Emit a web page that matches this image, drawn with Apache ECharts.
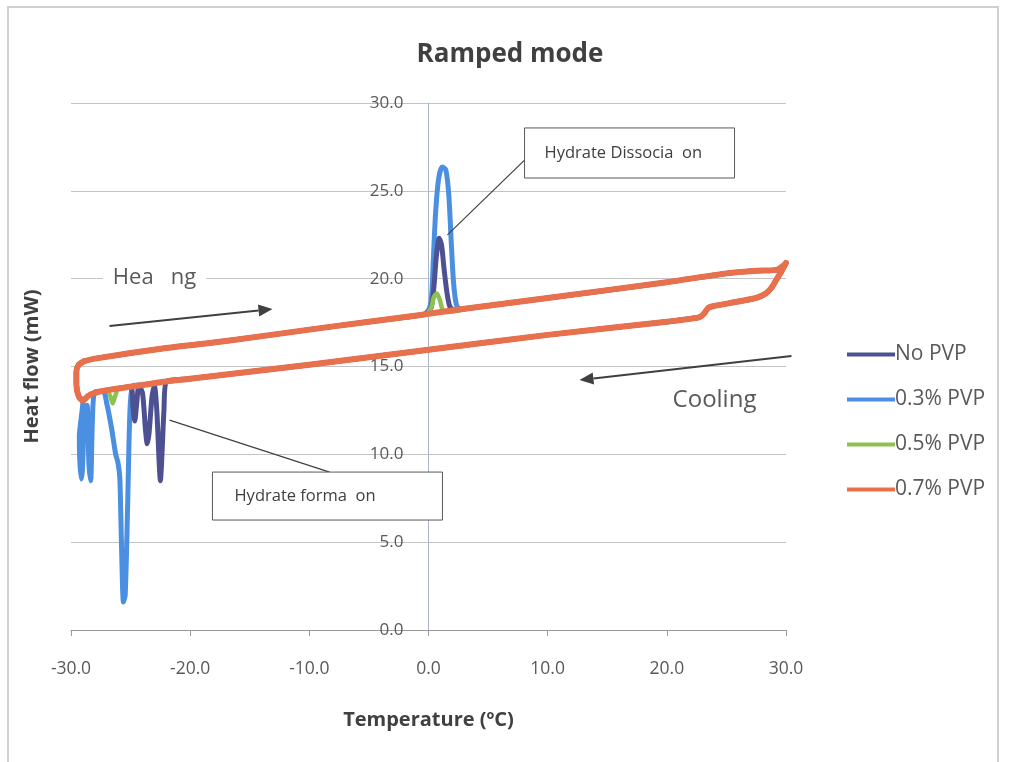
<!DOCTYPE html>
<html><head><meta charset="utf-8">
<script src="https://cdn.jsdelivr.net/npm/echarts@6/dist/echarts.min.js"></script>
<style>html,body{margin:0;padding:0;background:#fff}#c{width:1010px;height:762px}</style>
</head><body><div id="c"></div>
<script>
// ---- data (temperature °C, heat flow mW) ----
const seriesNames = ['No PVP', '0.3% PVP', '0.5% PVP', '0.7% PVP'];
const seriesColors = ['#4d5191', '#4a8fe0', '#8dc151', '#e8704c'];
const xTickValues = [-30, -20, -10, 0, 10, 20, 30];
const yTickValues = [0, 5, 10, 15, 20, 25, 30];

// heating branch, left part (shared)
const heatLeft = [[-28.9,15.3],[-28.0,15.45],[-22.0,16.05],[-17.0,16.45],[-10.0,17.1],[-5.0,17.55],[-0.5,17.95]];
// dissociation peaks
const peakNoPvp = [[-0.3,17.98],[0.2,18.3],[0.45,19.5],[0.65,21.2],[0.9,22.3],[1.1,21.9],[1.3,20.6],[1.55,19.2],[1.8,18.4],[2.2,18.2]];
const peak03 = [[-0.5,17.95],[0.0,18.2],[0.25,18.9],[0.4,21.0],[0.6,23.8],[0.85,25.7],[1.15,26.35],[1.45,26.2],[1.7,24.8],[1.9,22.2],[2.1,19.8],[2.35,18.5],[2.7,18.25]];
const peak05 = [[-0.2,17.98],[0.2,18.3],[0.45,18.95],[0.7,19.15],[0.95,18.8],[1.2,18.2],[1.6,18.1]];
const peak07 = [[0.0,18.0],[1.5,18.15]];
// heating branch, right part (shared)
const heatRight = [[3.2,18.3],[10.0,18.9],[20.0,19.8],[25.0,20.3],[27.5,20.45],[29.2,20.5],[29.8,20.75],[30.0,20.9]];
// cooling branch, right part (shared)
const coolRight = [[29.6,20.4],[29.2,19.95],[28.8,19.5],[28.3,19.15],[27.5,18.9],[26.0,18.7],[24.0,18.45],[23.5,18.35],[23.1,18.0],[22.7,17.8],[20.0,17.55],[10.0,16.8],[0.0,15.95],[-10.0,15.1],[-20.0,14.3]];
// formation dips on cooling
const dipNoPvp = [[-22.0,14.15],[-22.2,12.5],[-22.4,9.5],[-22.5,8.5],[-22.6,9.5],[-22.8,12.5],[-23.0,13.9],[-23.2,13.3],[-23.45,11.2],[-23.6,10.6],[-23.75,11.4],[-24.0,13.5],[-24.3,13.9],[-24.5,12.8],[-24.65,11.9],[-24.8,12.7],[-25.0,13.85],[-27.0,13.65],[-28.0,13.5],[-28.6,13.3]];
const dip03 = [[-22.0,14.15],[-24.0,13.95],[-24.8,13.9],[-25.05,12.5],[-25.25,7.0],[-25.45,2.0],[-25.6,1.6],[-25.75,4.5],[-25.9,8.6],[-26.05,9.5],[-26.25,10.0],[-26.6,11.5],[-27.0,12.9],[-27.3,13.6],[-28.0,13.55],[-28.2,12.0],[-28.35,8.5],[-28.5,9.5],[-28.65,12.8],[-28.85,12.5],[-29.05,9.0],[-29.15,8.6],[-29.3,11.0]];
const dip05 = [[-22.0,14.15],[-25.0,13.85],[-26.0,13.75],[-26.3,13.3],[-26.5,12.9],[-26.7,13.3],[-27.0,13.65],[-28.0,13.5],[-28.6,13.3]];
const dip07 = [[-22.0,14.15],[-25.0,13.85],[-27.0,13.65],[-28.0,13.5],[-28.6,13.3]];
// low-temperature corner joining cooling back to heating (shared)
const corner = [[-29.0,13.05],[-29.35,13.3],[-29.55,14.0],[-29.55,14.7],[-29.35,15.1],[-28.9,15.3]];

const loopNoPvp = [...heatLeft, ...peakNoPvp, ...heatRight, ...coolRight, ...dipNoPvp, ...corner];
const loop03 = [...heatLeft, ...peak03, ...heatRight, ...coolRight, ...dip03, ...corner];
const loop05 = [...heatLeft, ...peak05, ...heatRight, ...coolRight, ...dip05, ...corner];
const loop07 = [...heatLeft, ...peak07, ...heatRight, ...coolRight, ...dip07, ...corner];

const FONT = 'Open Sans';
const chart = echarts.init(document.getElementById('c'), null, {renderer: 'canvas'});

function mk(name, data, color, width, z) {
  return {
    name, type: 'line', data, smooth: 0.25, symbol: 'none', z,
    lineStyle: {color, width, cap: 'round', join: 'round'},
    itemStyle: {color}
  };
}

const GRID = {left: 71, right: 224, top: 103, bottom: 132};
const plotW = 1010 - GRID.left - GRID.right;
const zeroOffset = -plotW * (0 - (-30)) / 60;   // move the y axis to x = 0

chart.setOption({
  animation: false,
  backgroundColor: '#fff',
  title: {
    text: 'Ramped mode', left: 505, top: 37, textAlign: 'center',
    textStyle: {fontFamily: FONT, fontSize: 26, fontWeight: 'bold', color: '#404040'}
  },
  legend: {
    data: seriesNames, orient: 'vertical', left: 842, top: 339,
    icon: 'rect', itemWidth: 48, itemHeight: 4, itemGap: 24,
    textStyle: {fontFamily: FONT, fontSize: 21, color: '#595959', padding: [0,0,0,-5]}
  },
  grid: Object.assign({outerBoundsMode: 'none', containLabel: false}, GRID),
  xAxis: {
    type: 'value', min: -30, max: 30, interval: 10,
    name: 'Temperature (ºC)', nameLocation: 'middle', nameGap: 80,
    nameTextStyle: {fontFamily: FONT, fontSize: 20, fontWeight: 'bold', color: '#404040'},
    axisLine: {onZero: false, lineStyle: {color: '#9a9a9a', width: 1}},
    axisTick: {show: true, length: 6, lineStyle: {color: '#9a9a9a'}},
    axisLabel: {fontFamily: FONT, fontSize: 17.5, color: '#595959', margin: 30,
      formatter: v => xTickValues.includes(v) ? v.toFixed(1) : ''},
    splitLine: {show: false}
  },
  yAxis: {
    type: 'value', min: 0, max: 30, interval: 5, offset: zeroOffset,
    name: 'Heat flow (mW)', nameLocation: 'middle', nameRotate: 90, nameGap: 386,
    nameTextStyle: {fontFamily: FONT, fontSize: 20, fontWeight: 'bold', color: '#404040'},
    axisLine: {show: true, onZero: false, lineStyle: {color: '#aab6cc', width: 1}},
    axisTick: {show: false},
    axisLabel: {fontFamily: FONT, fontSize: 17, color: '#595959', margin: 25,
      formatter: v => yTickValues.includes(v) ? v.toFixed(1) : ''},
    splitLine: {lineStyle: {color: '#c4c4c4', width: 1}}
  },
  series: [
    mk('0.3% PVP', loop03, seriesColors[1], 5, 2),
    mk('No PVP', loopNoPvp, seriesColors[0], 5, 3),
    mk('0.5% PVP', loop05, seriesColors[2], 4.5, 4),
    mk('0.7% PVP', loop07, seriesColors[3], 6, 5)
  ]
});

// ---- annotations anchored in data coordinates ----
function P(x, y) { return chart.convertToPixel({gridIndex: 0}, [x, y]); }
function arrow(a, b, color, w) {
  const p = P(a[0], a[1]), q = P(b[0], b[1]);
  const dx = q[0] - p[0], dy = q[1] - p[1], L = Math.hypot(dx, dy);
  const ux = dx / L, uy = dy / L, hl = 14, hw = 6;
  const bx = q[0] - ux * hl, by = q[1] - uy * hl;
  return [
    {type: 'line', shape: {x1: p[0], y1: p[1], x2: bx, y2: by}, style: {stroke: color, lineWidth: w}, z: 20},
    {type: 'polygon', shape: {points: [[q[0], q[1]], [bx - uy * hw, by + ux * hw], [bx + uy * hw, by - ux * hw]]}, style: {fill: color}, z: 20}
  ];
}
function box(x0, y0, x1, y1, text, pad) {
  const a = P(x0, y0), b = P(x1, y1);
  return [
    {type: 'rect', shape: {x: a[0], y: a[1], width: b[0] - a[0], height: b[1] - a[1]}, style: {fill: '#fff', stroke: '#595959', lineWidth: 1}, z: 20},
    {type: 'text', x: a[0] + pad, y: (a[1] + b[1]) / 2, style: {text, fontFamily: FONT, fontSize: 16.5, fill: '#404040', align: 'left', verticalAlign: 'middle'}, z: 21}
  ];
}
function seg(a, b) {
  const p = P(a[0], a[1]), q = P(b[0], b[1]);
  return {type: 'line', shape: {x1: p[0], y1: p[1], x2: q[0], y2: q[1]}, style: {stroke: '#404040', lineWidth: 1.2}, z: 20};
}
function label(x, y, text, size) {
  const p = P(x, y);
  return {type: 'text', x: p[0], y: p[1], style: {text, fontFamily: FONT, fontSize: size, fill: '#595959', align: 'center', verticalAlign: 'middle', backgroundColor: '#fff', padding: [0, 10]}, z: 20};
}

const g = [];
g.push({type: 'rect', shape: {x: 8, y: 7, width: 990, height: 762}, style: {fill: null, stroke: '#d0d0d0', lineWidth: 2}, z: 0, silent: true});
g.push(seg([8.06, 26.75], [1.59, 22.49]));
g.push(...box(8.06, 28.58, 25.68, 25.73, 'Hydrate Dissocia  on', 20));
g.push(seg([-21.73, 11.95], [-8.3, 8.99]));
g.push(...box(-18.13, 8.99, 1.17, 6.26, 'Hydrate forma  on', 22));
g.push(label(-22.99, 20.04, 'Hea   ng', 22));
g.push(...arrow([-26.77, 17.3], [-13.09, 18.27], '#404040', 2));
g.push(label(24.0, 13.09, 'Cooling', 24));
g.push(...arrow([30.46, 15.6], [12.67, 14.23], '#404040', 2));
chart.setOption({graphic: g});
</script></body></html>
